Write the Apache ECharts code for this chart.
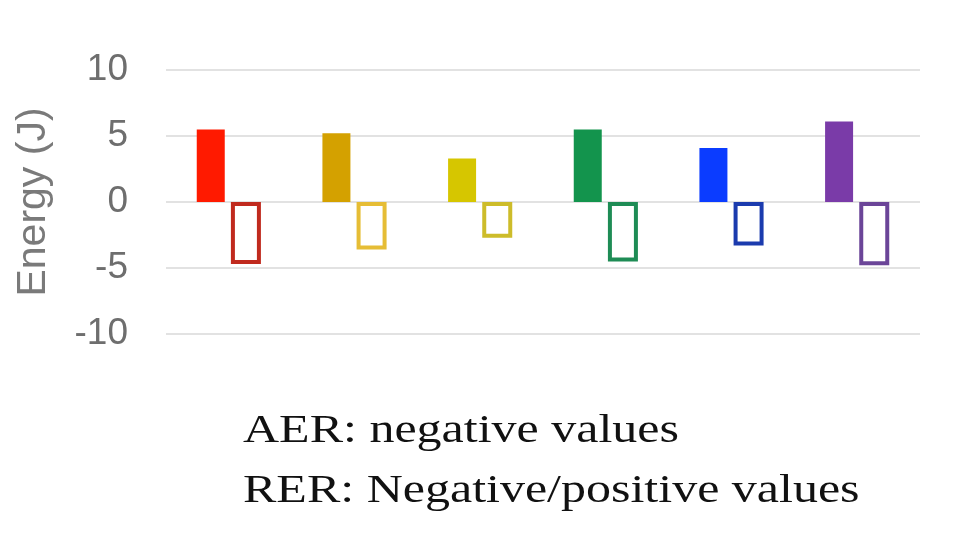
<!DOCTYPE html>
<html>
<head>
<meta charset="utf-8">
<script src="https://cdn.jsdelivr.net/npm/echarts@6/dist/echarts.min.js"></script>
<style>html,body{margin:0;padding:0;background:#fff}#c{width:960px;height:536px}</style>
</head>
<body>
<div id="c"></div>
<script>
const categories = ['Red', 'Orange', 'Yellow', 'Green', 'Blue', 'Purple'];
const positiveValues = [5.5, 5.2, 3.3, 5.5, 4.1, 6.1];
const negativeValues = [-4.7, -3.6, -2.7, -4.5, -3.3, -4.8];
const yTicks = [-10, -5, 0, 5, 10];
const fillColors = ['#ff1a00', '#d4a100', '#d6c600', '#13944d', '#0b3cff', '#7a3ba8'];
const outlineColors = ['#c02a1e', '#e6bd35', '#cdbc2a', '#1e8c55', '#1b3bae', '#6b4598'];
const noteLines = ['AER: negative values', 'RER: Negative/positive values'];

const chart = echarts.init(document.getElementById('c'), null, {renderer: 'canvas'});
chart.setOption({
  animation: false,
  backgroundColor: '#ffffff',
  grid: {left: 166, right: 40, top: 70, bottom: 202, containLabel: false},
  xAxis: {
    type: 'category',
    data: categories,
    axisLine: {show: false},
    axisTick: {show: false},
    axisLabel: {show: false}
  },
  yAxis: {
    type: 'value',
    min: yTicks[0],
    max: yTicks[yTicks.length - 1],
    interval: 5,
    name: 'Energy (J)',
    nameLocation: 'middle',
    nameGap: 112,
    nameTextStyle: {fontFamily: 'Liberation Sans, Arial, sans-serif', fontSize: 41, color: '#7a7a7a'},
    axisLine: {show: false},
    axisTick: {show: false},
    axisLabel: {fontFamily: 'Liberation Sans, Arial, sans-serif', fontSize: 37, color: '#6e6e6e', margin: 38},
    splitLine: {lineStyle: {color: '#e2e2e2', width: 2}}
  },
  series: [
    {
      name: 'Positive',
      type: 'bar',
      barWidth: 28,
      barGap: '22%',
      data: positiveValues.map((v, i) => ({value: v, itemStyle: {color: fillColors[i]}}))
    },
    {
      name: 'Negative',
      type: 'bar',
      barWidth: 30,
      barGap: '22%',
      data: negativeValues.map((v, i) => ({
        value: v,
        itemStyle: {color: '#ffffff', borderColor: outlineColors[i], borderWidth: 4}
      }))
    }
  ],
  graphic: noteLines.map((t, i) => ({
    type: 'text',
    left: 243,
    top: 411 + i * 60,
    scaleX: 1.25,
    style: {
      text: t,
      font: '40px "Liberation Serif", "Times New Roman", serif',
      fill: '#111111'
    }
  }))
});
</script>
</body>
</html>
